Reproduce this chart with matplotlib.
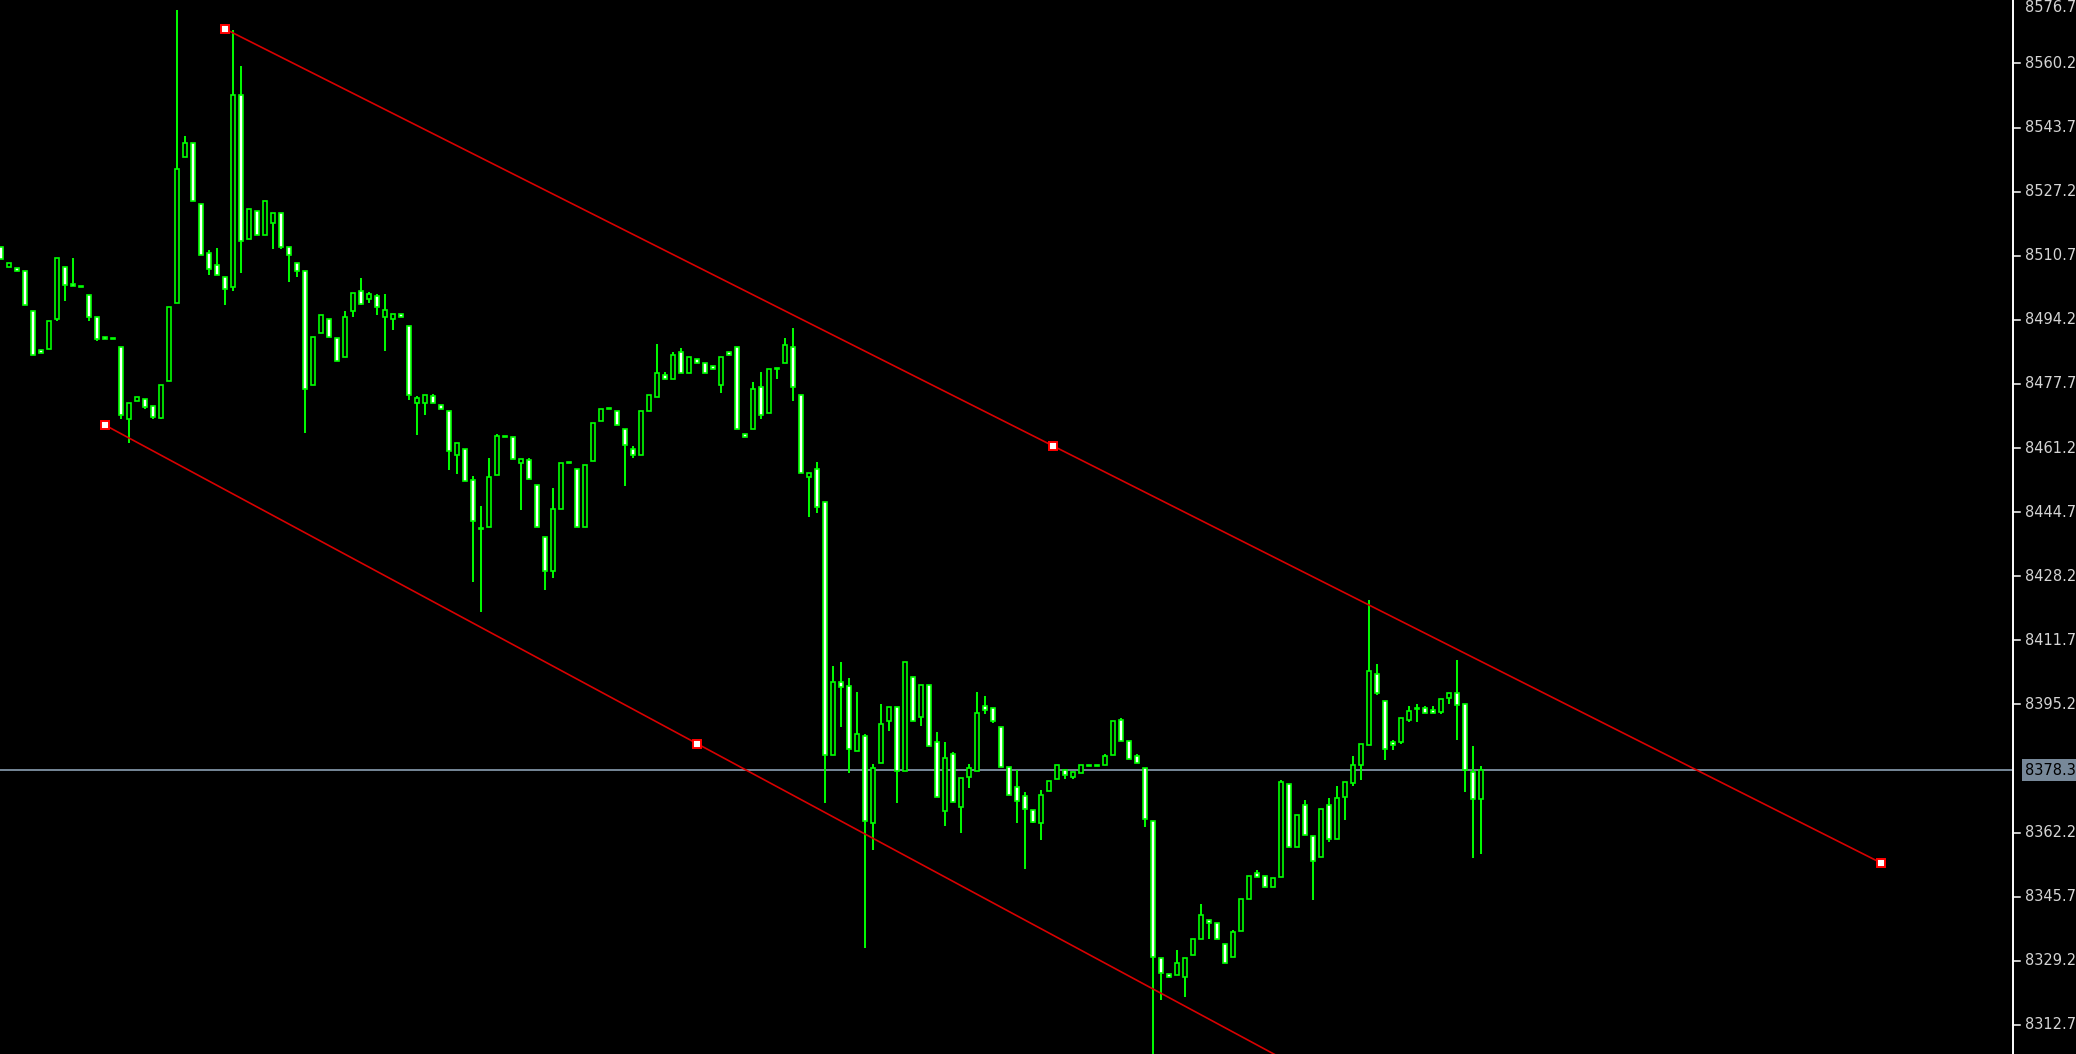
import matplotlib
matplotlib.use("Agg")
import matplotlib.pyplot as plt
from matplotlib.patches import Rectangle
from matplotlib.collections import LineCollection

# ---------------- data ----------------
opens = [8513.0, 8507.7, 8507.6, 8506.9, 8496.6, 8486.5, 8486.6, 8494.4, 8507.9, 8503.4,
         8502.9, 8500.7, 8495.0, 8489.9, 8489.5, 8487.3, 8468.6, 8473.2, 8473.9, 8471.9,
         8469.0, 8478.4, 8498.5, 8536.1, 8539.8, 8523.9, 8511.5, 8508.4, 8505.3, 8502.6,
         8552.2, 8514.9, 8522.3, 8516.0, 8519.1, 8521.8, 8513.0, 8508.9, 8506.9, 8477.4,
         8490.9, 8494.5, 8489.4, 8484.6, 8496.4, 8501.7, 8499.5, 8500.4, 8494.9, 8494.4,
         8495.7, 8492.5, 8472.7, 8472.7, 8474.6, 8472.4, 8470.8, 8459.4, 8461.0, 8453.0,
         8440.6, 8440.8, 8454.2, 8464.3, 8464.1, 8457.3, 8458.1, 8451.8, 8438.4, 8429.5,
         8445.5, 8457.6, 8455.9, 8440.8, 8457.8, 8468.1, 8471.5, 8470.8, 8466.2, 8461.0,
         8459.4, 8470.7, 8474.3, 8480.1, 8478.9, 8485.8, 8480.5, 8484.2, 8483.2, 8482.3,
         8477.4, 8485.9, 8487.3, 8464.8, 8466.0, 8477.0, 8470.2, 8481.8, 8483.0, 8487.3,
         8474.9, 8453.7, 8455.9, 8447.3, 8382.2, 8400.9, 8399.9, 8383.2, 8387.0, 8364.7,
         8380.1, 8390.9, 8394.6, 8378.1, 8402.3, 8391.9, 8400.3, 8385.4, 8367.7, 8382.4,
         8368.7, 8376.5, 8378.1, 8394.8, 8394.2, 8389.5, 8379.2, 8374.0, 8371.5, 8367.9,
         8364.6, 8372.9, 8376.0, 8378.2, 8376.5, 8377.5, 8379.7, 8379.7, 8379.6, 8382.1,
         8391.2, 8385.9, 8382.0, 8378.7, 8365.3, 8329.8, 8325.8, 8325.5, 8325.0, 8330.7,
         8334.8, 8339.6, 8339.0, 8333.4, 8330.1, 8336.8, 8345.1, 8351.9, 8350.9, 8348.2,
         8350.7, 8374.6, 8358.4, 8369.4, 8361.2, 8355.9, 8369.4, 8360.5, 8371.3, 8374.9,
         8379.6, 8384.7, 8402.9, 8396.2, 8385.6, 8385.6, 8391.2, 8394.3, 8394.3, 8393.8,
         8393.3, 8396.9, 8398.2, 8395.2, 8377.8, 8370.8]
highs = [8513.0, 8508.9, 8507.6, 8506.9, 8496.6, 8486.5, 8494.0, 8510.0, 8507.9, 8510.1,
         8502.9, 8500.7, 8495.0, 8489.9, 8489.5, 8487.3, 8472.9, 8474.4, 8473.9, 8471.9,
         8477.5, 8497.6, 8574.0, 8541.5, 8539.8, 8523.9, 8512.2, 8512.7, 8505.3, 8568.8,
         8559.6, 8522.8, 8522.3, 8524.9, 8521.8, 8521.8, 8513.0, 8508.9, 8506.9, 8489.9,
         8495.5, 8494.5, 8489.4, 8496.6, 8501.2, 8505.0, 8501.4, 8500.9, 8500.9, 8495.7,
         8495.7, 8492.5, 8474.6, 8474.9, 8475.1, 8472.4, 8470.8, 8462.6, 8461.0, 8454.0,
         8446.3, 8458.7, 8464.8, 8464.3, 8464.1, 8458.5, 8458.7, 8451.8, 8438.4, 8450.9,
         8457.4, 8457.6, 8455.9, 8456.9, 8467.7, 8471.3, 8471.5, 8470.8, 8466.2, 8461.7,
         8470.8, 8474.9, 8488.0, 8480.8, 8485.9, 8487.0, 8484.7, 8484.2, 8483.2, 8482.3,
         8484.7, 8485.9, 8487.3, 8464.8, 8478.2, 8480.8, 8481.6, 8481.8, 8489.5, 8492.1,
         8474.9, 8454.9, 8457.6, 8447.3, 8405.2, 8406.2, 8401.9, 8398.4, 8387.7, 8379.9,
         8395.2, 8394.6, 8394.6, 8406.0, 8402.3, 8400.3, 8400.3, 8388.1, 8385.4, 8383.0,
         8376.3, 8379.9, 8398.4, 8397.4, 8394.2, 8389.5, 8379.2, 8378.3, 8372.7, 8367.9,
         8373.2, 8375.6, 8379.7, 8378.2, 8377.7, 8379.7, 8379.7, 8379.7, 8382.5, 8391.0,
         8391.7, 8385.9, 8382.5, 8378.7, 8365.3, 8329.8, 8325.8, 8332.0, 8329.8, 8334.9,
         8343.9, 8339.6, 8339.0, 8333.4, 8337.2, 8345.2, 8350.9, 8352.6, 8350.9, 8350.4,
         8375.8, 8374.6, 8366.8, 8370.6, 8361.2, 8368.4, 8371.1, 8374.2, 8375.1, 8382.0,
         8384.9, 8422.1, 8405.6, 8396.2, 8386.1, 8391.6, 8394.8, 8395.3, 8394.8, 8394.8,
         8396.7, 8398.2, 8406.7, 8395.2, 8384.5, 8379.4]
lows = [8509.8, 8507.7, 8506.7, 8498.0, 8485.1, 8485.6, 8486.6, 8493.8, 8499.0, 8502.9,
        8502.6, 8493.8, 8488.7, 8489.2, 8489.2, 8468.8, 8462.4, 8473.2, 8471.2, 8468.6,
        8468.6, 8478.4, 8498.5, 8536.1, 8524.7, 8510.8, 8505.7, 8505.7, 8498.0, 8501.6,
        8506.2, 8514.9, 8516.0, 8516.0, 8512.4, 8512.4, 8504.0, 8505.2, 8465.0, 8477.4,
        8490.9, 8489.7, 8483.7, 8484.6, 8494.9, 8498.0, 8498.5, 8495.4, 8486.1, 8491.6,
        8494.9, 8473.6, 8464.5, 8469.6, 8472.7, 8471.2, 8455.6, 8454.5, 8452.7, 8426.7,
        8419.0, 8440.8, 8454.2, 8464.0, 8458.3, 8445.3, 8453.2, 8440.8, 8424.7, 8427.8,
        8445.5, 8457.3, 8440.8, 8440.8, 8457.8, 8468.1, 8471.2, 8467.1, 8451.4, 8458.7,
        8459.4, 8470.7, 8474.3, 8478.9, 8478.9, 8480.5, 8480.5, 8483.0, 8480.5, 8481.5,
        8475.3, 8485.1, 8466.0, 8464.0, 8466.0, 8468.6, 8470.2, 8478.9, 8483.0, 8473.2,
        8454.7, 8443.4, 8444.4, 8369.7, 8382.2, 8389.3, 8377.5, 8383.2, 8332.6, 8357.7,
        8380.1, 8388.3, 8369.7, 8378.1, 8390.9, 8389.7, 8384.6, 8371.4, 8364.0, 8370.0,
        8362.0, 8373.8, 8378.1, 8392.7, 8390.3, 8379.0, 8371.8, 8364.6, 8352.8, 8364.6,
        8360.3, 8372.9, 8376.0, 8376.0, 8376.0, 8377.5, 8379.4, 8379.4, 8379.6, 8382.1,
        8385.7, 8381.1, 8380.1, 8363.6, 8304.2, 8319.1, 8325.0, 8325.5, 8319.8, 8330.7,
        8334.8, 8334.8, 8334.8, 8328.6, 8330.1, 8336.8, 8345.1, 8350.7, 8348.2, 8348.2,
        8350.7, 8358.4, 8358.4, 8361.5, 8344.9, 8355.9, 8359.8, 8360.5, 8365.5, 8374.2,
        8375.8, 8384.7, 8397.6, 8380.9, 8383.5, 8385.0, 8390.7, 8390.7, 8392.9, 8392.9,
        8392.8, 8395.3, 8386.1, 8372.7, 8355.7, 8356.7]
closes = [8509.8, 8508.9, 8506.7, 8498.0, 8485.1, 8485.6, 8494.0, 8510.0, 8503.1, 8502.9,
          8502.6, 8494.9, 8489.2, 8489.2, 8489.2, 8469.6, 8472.9, 8474.4, 8471.7, 8469.1,
          8477.5, 8497.6, 8533.1, 8539.8, 8524.7, 8510.8, 8507.2, 8505.7, 8502.1, 8552.2,
          8514.4, 8522.8, 8516.0, 8524.9, 8521.8, 8512.9, 8510.8, 8506.9, 8476.5, 8489.9,
          8495.5, 8489.7, 8483.7, 8495.0, 8501.2, 8498.3, 8500.9, 8497.6, 8496.8, 8495.7,
          8494.9, 8474.8, 8474.1, 8474.9, 8472.7, 8471.2, 8460.4, 8462.6, 8452.7, 8442.4,
          8440.3, 8453.8, 8464.3, 8464.0, 8458.3, 8458.5, 8453.2, 8440.8, 8429.5, 8445.6,
          8457.4, 8457.3, 8440.8, 8456.9, 8467.7, 8471.3, 8471.2, 8467.1, 8461.9, 8459.4,
          8470.8, 8474.9, 8480.6, 8478.9, 8485.2, 8480.5, 8484.7, 8483.0, 8480.5, 8481.5,
          8484.7, 8485.1, 8466.0, 8464.0, 8476.5, 8469.6, 8481.6, 8481.5, 8487.8, 8476.9,
          8454.7, 8454.9, 8446.0, 8382.2, 8400.9, 8399.7, 8383.8, 8387.5, 8365.1, 8378.9,
          8390.1, 8394.6, 8378.1, 8406.0, 8390.9, 8400.3, 8384.6, 8371.4, 8381.4, 8370.0,
          8376.3, 8378.9, 8393.1, 8393.8, 8390.9, 8379.0, 8371.8, 8370.3, 8368.2, 8365.0,
          8372.0, 8375.6, 8379.7, 8377.0, 8377.7, 8379.7, 8379.4, 8379.4, 8382.0, 8391.0,
          8385.7, 8381.1, 8380.1, 8365.7, 8330.1, 8326.0, 8325.0, 8328.7, 8329.8, 8334.9,
          8341.1, 8338.9, 8334.8, 8328.6, 8336.5, 8345.2, 8350.9, 8350.7, 8348.2, 8350.4,
          8375.1, 8358.4, 8366.8, 8361.5, 8354.8, 8368.4, 8360.5, 8371.0, 8375.1, 8379.7,
          8384.9, 8403.9, 8398.1, 8383.7, 8384.7, 8391.6, 8393.6, 8394.0, 8392.9, 8392.9,
          8396.7, 8398.2, 8395.0, 8378.3, 8370.8, 8378.2]

price_ticks = [8576.7, 8560.2, 8543.7, 8527.2, 8510.7, 8494.2, 8477.7, 8461.2,
               8444.7, 8428.2, 8411.7, 8395.2, 8362.2, 8345.7, 8329.2, 8312.7]
price_tick_labels = ["8576.7", "8560.2", "8543.7", "8527.2", "8510.7", "8494.2",
                     "8477.7", "8461.2", "8444.7", "8428.2", "8411.7", "8395.2",
                     "8362.2", "8345.7", "8329.2", "8312.7"]
current_price = 8378.3
current_label = "8378.3"

# trend lines: (bar index, price) anchor points
upper_line_bars = [28, 235]
upper_line_prices = [8569.1, 8354.4]
lower_line_bars = [13, 161]
lower_line_prices = [8467.1, 8303.1]

# ---------------- layout ----------------
W, H, DPI = 2076, 1054, 100
AXIS_X = 2013            # pixel column of the price scale line
Y_TOP, Y_BOTTOM = 8576.54, 8305.2

fig = plt.figure(figsize=(W / DPI, H / DPI), dpi=DPI, facecolor="black")
ax = fig.add_axes([0, 0, AXIS_X / W, 1])
ax.set_facecolor("black")
ax.set_xlim(-0.125, (AXIS_X - 1) / 8)
ax.set_ylim(Y_BOTTOM, Y_TOP)
for s in ("top", "left", "bottom"):
    ax.spines[s].set_visible(False)
ax.spines["right"].set_color("white")
ax.spines["right"].set_linewidth(1.4)
ax.set_xticks([])
ax.set_yticks([])

LIME = "#00FF00"

# current price line
ax.axhline(current_price, color="#778899", lw=1.4, zorder=1)

# wicks
n = len(opens)
segs = [[(i, lows[i]), (i, highs[i])] for i in range(n)]
ax.add_collection(LineCollection(segs, colors=LIME, linewidths=1.4, zorder=2))

# bodies
for i in range(n):
    o, c = opens[i], closes[i]
    face = "black" if c > o else "white"
    ax.add_patch(Rectangle((i - 0.28, min(o, c)), 0.56, abs(c - o),
                           facecolor=face, edgecolor=LIME, linewidth=1.2, zorder=3))

# trend lines with anchor markers
for bars, prices in ((upper_line_bars, upper_line_prices),
                     (lower_line_bars, lower_line_prices)):
    ax.plot(bars, prices, color="#D80000", lw=1.2, zorder=4, solid_capstyle="butt")
    mid_b = (bars[0] + bars[1]) / 2
    mid_p = (prices[0] + prices[1]) / 2
    ax.plot([bars[0], mid_b, bars[1]], [prices[0], mid_p, prices[1]], ls="none",
            marker="s", markersize=5.8, markerfacecolor="white",
            markeredgecolor="#FF0000", markeredgewidth=1.4, zorder=5)

# price scale
ytr = ax.get_yaxis_transform()
tick_len = 7 / AXIS_X
text_off = 12 / AXIS_X
for p, lab in zip(price_ticks, price_tick_labels):
    ax.plot([1, 1 + tick_len], [p, p], color="white", lw=1.1, transform=ytr,
            clip_on=False, zorder=6)
    if p > Y_TOP - 3:
        # topmost label sits at the very top edge: keep it inside the picture
        ax.text(1 + text_off, 1.0, lab, transform=ax.transAxes, color="#D4D4D4",
                fontsize=10.5, va="top", ha="left", clip_on=False,
                family="DejaVu Sans")
    else:
        ax.text(1 + text_off, p, lab, transform=ytr, color="#D4D4D4", fontsize=10.5,
                va="center", ha="left", clip_on=False, family="DejaVu Sans")

ax.text(1 + text_off, current_price, current_label, transform=ytr, color="black",
        fontsize=10.5, va="center", ha="left", clip_on=False, family="DejaVu Sans",
        bbox=dict(boxstyle="square,pad=0.22", facecolor="#778899", edgecolor="none"),
        zorder=7)

fig.savefig("out.png", dpi=DPI, facecolor="black")
